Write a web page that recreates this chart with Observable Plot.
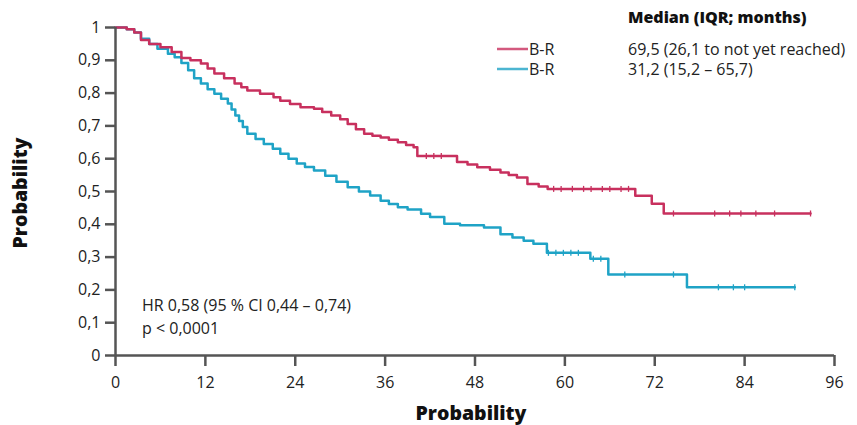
<!DOCTYPE html>
<html>
<head>
<meta charset="utf-8">
<script src="https://cdn.jsdelivr.net/npm/d3@7"></script>
<script src="https://cdn.jsdelivr.net/npm/@observablehq/plot@0.6"></script>
<style>
  html, body { margin: 0; padding: 0; background: #fff; }
  #chart { width: 857px; height: 425px; }
</style>
</head>
<body>
<div id="chart"></div>
<script>
// ---- data ----
const groups = ["B-R", "B-R"];
const groupColors = ["#c8305e", "#1fa3c6"];
const medians = ["69,5 (26,1 to not yet reached)", "31,2 (15,2 \u2013 65,7)"];
const legendTitle = "Median (IQR; months)";
const hrText = ["HR 0,58 (95 % CI 0,44 \u2013 0,74)", "p < 0,0001"];
const axisTitleX = "Probability";
const axisTitleY = "Probability";
const xTicks = [0, 12, 24, 36, 48, 60, 72, 84, 96];
const yTicks = [0, 0.1, 0.2, 0.3, 0.4, 0.5, 0.6, 0.7, 0.8, 0.9, 1];

const redTimes = [0, 1.5, 2.5, 3.4, 4.5, 6, 7.5, 8.8, 10, 11.4, 12.3, 13.2, 14.5, 15.9, 16.8, 17.6, 19.3, 21.1, 22, 23.3, 24.7, 26.5, 27.6, 28.8, 30, 31, 32.1, 33.2, 34.3, 35.4, 36.5, 37.7, 38.8, 39.8, 40.3, 45.6, 47, 48.3, 50, 51.4, 52.5, 53.6, 55, 56.5, 57.7, 69.4, 71.6, 73.2, 92.8];
const redSurv  = [1, 0.995, 0.985, 0.962, 0.95, 0.94, 0.925, 0.907, 0.9, 0.89, 0.875, 0.86, 0.845, 0.829, 0.818, 0.808, 0.798, 0.787, 0.777, 0.767, 0.757, 0.752, 0.742, 0.732, 0.72, 0.706, 0.69, 0.676, 0.67, 0.665, 0.658, 0.65, 0.642, 0.635, 0.608, 0.59, 0.582, 0.574, 0.566, 0.558, 0.55, 0.543, 0.523, 0.515, 0.508, 0.487, 0.463, 0.433, 0.433];

const cyanTimes = [0, 1.5, 2.5, 3.4, 4.5, 5.6, 7, 7.9, 8.8, 9.7, 10.5, 11.4, 12.3, 13.2, 14.1, 15, 15.5, 16, 16.5, 17, 17.6, 18.7, 19.8, 21, 22, 23.1, 24.2, 25.3, 26.5, 28, 29.5, 31, 32.5, 34, 35.4, 36.5, 37.7, 39, 40.8, 42, 43.9, 46, 49.2, 51.4, 53, 54.5, 55.8, 57.6, 63.4, 65.8, 76.3, 90.7];
const cyanSurv  = [1, 0.995, 0.985, 0.966, 0.95, 0.935, 0.92, 0.909, 0.892, 0.87, 0.845, 0.829, 0.812, 0.798, 0.783, 0.768, 0.75, 0.732, 0.715, 0.697, 0.676, 0.66, 0.645, 0.63, 0.615, 0.6, 0.585, 0.575, 0.564, 0.548, 0.53, 0.513, 0.5, 0.488, 0.472, 0.462, 0.452, 0.445, 0.432, 0.422, 0.402, 0.397, 0.39, 0.37, 0.36, 0.35, 0.341, 0.313, 0.295, 0.247, 0.208, 0.208];

const redCensor  = [41.5, 42.5, 43.5, 58.5, 59.5, 61, 62.5, 63.5, 65, 66, 67.5, 68.5, 74.5, 80, 82, 83.5, 85.5, 88, 92.8];
const cyanCensor = [57.8, 58.8, 59.8, 60.8, 61.8, 63.8, 64.8, 68, 74.5, 80.5, 82.5, 84, 90.7];

// ---- build tables ----
const curves = [
  ...redTimes.map((t, i) => ({time: t, surv: redSurv[i], group: 0})),
  ...cyanTimes.map((t, i) => ({time: t, surv: cyanSurv[i], group: 1}))
];
function stepValue(times, surv, t) {
  const i = d3.bisectRight(times, t) - 1;
  return surv[Math.max(0, i)];
}
const censors = [
  ...redCensor.map(t => ({time: t, surv: stepValue(redTimes, redSurv, t), group: 0})),
  ...cyanCensor.map(t => ({time: t, surv: stepValue(cyanTimes, cyanSurv, t), group: 1}))
];

const fmt = d => d3.format(".1~f")(d).replace(".", ",");
const tickSymbol = {draw(ctx) { ctx.moveTo(0, -3); ctx.lineTo(0, 3); }};
const axisColor = "#555";
const font = "'Open Sans', 'Noto Sans', sans-serif";

const plot = Plot.plot({
  width: 857,
  height: 425,
  marginLeft: 115,
  marginRight: 23,
  marginTop: 27,
  marginBottom: 70,
  style: {fontFamily: font, fontSize: "16px", color: "#222", background: "#fff"},
  x: {domain: [0, 96]},
  y: {domain: [0, 1]},
  marks: [
    Plot.line(curves.filter(d => d.group === 1), {x: "time", y: "surv", curve: "step-after", stroke: groupColors[1], strokeWidth: 2.5}),
    Plot.line(curves.filter(d => d.group === 0), {x: "time", y: "surv", curve: "step-after", stroke: groupColors[0], strokeWidth: 2.5}),
    Plot.dot(censors, {x: "time", y: "surv", symbol: tickSymbol, stroke: d => groupColors[d.group], strokeWidth: 1.3, fill: "none"}),
    Plot.ruleY([0], {stroke: axisColor, strokeWidth: 2.5}),
    Plot.ruleX([0], {stroke: axisColor, strokeWidth: 2.5}),
    Plot.axisX({ticks: xTicks, tickSize: 11, tickPadding: 10, stroke: axisColor, strokeWidth: 2.5, fill: "#222", fontSize: 16, label: null, tickFormat: d => String(d)}),
    Plot.axisY({ticks: yTicks, tickSize: 10, tickPadding: 5, stroke: axisColor, strokeWidth: 2.5, fill: "#222", fontSize: 16, label: null, tickFormat: fmt})
  ]
});

const svg = d3.select(plot);
// axis titles
svg.append("text").attr("x", 471).attr("y", 420).attr("text-anchor", "middle")
  .attr("font-family", font).attr("font-weight", 800).attr("font-size", 19.5).attr("fill", "#111").text(axisTitleX);
svg.append("text").attr("transform", "translate(27,193) rotate(-90)").attr("text-anchor", "middle")
  .attr("font-family", font).attr("font-weight", 800).attr("font-size", 19.5).attr("fill", "#111").text(axisTitleY);
// legend
svg.append("text").attr("x", 628).attr("y", 23).attr("text-anchor", "start").attr("font-family", font).attr("font-weight", 800)
  .attr("font-size", 16).attr("fill", "#111").text(legendTitle);
groups.forEach((g, i) => {
  const cy = 49 + i * 20;
  svg.append("line").attr("x1", 497).attr("x2", 528).attr("y1", cy).attr("y2", cy)
    .attr("stroke", groupColors[i]).attr("stroke-width", 2.5).attr("stroke-opacity", 0.8);
  svg.append("text").attr("x", 529).attr("y", cy + 5.5).attr("text-anchor", "start").attr("font-family", font).attr("font-size", 16).attr("fill", "#222").text(g);
  svg.append("text").attr("x", 628).attr("y", cy + 5.5).attr("text-anchor", "start").attr("font-family", font).attr("font-size", 16).attr("fill", "#222").text(medians[i]);
});
// HR annotation
hrText.forEach((t, i) => {
  svg.append("text").attr("x", 142).attr("y", 311 + i * 23).attr("text-anchor", "start").attr("font-family", font).attr("font-size", 16).attr("fill", "#222").text(t);
});

document.getElementById("chart").appendChild(plot);
</script>
</body>
</html>
